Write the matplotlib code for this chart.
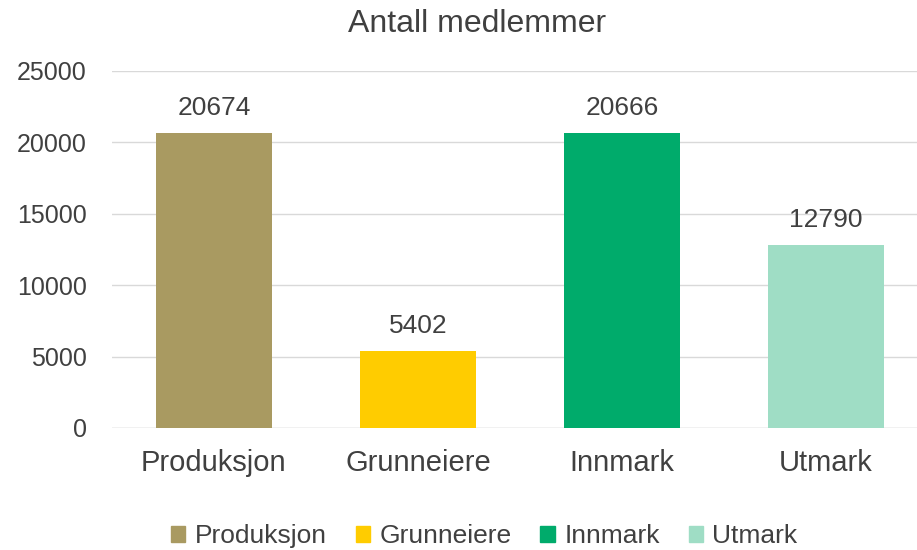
import matplotlib.pyplot as plt
from matplotlib.patches import Patch

categories = ['Produksjon', 'Grunneiere', 'Innmark', 'Utmark']
members = [20674, 5402, 20666, 12790]
colors = ['#A99A61', '#FFCC00', '#00AB6B', '#9FDDC5']
yticks = [0, 5000, 10000, 15000, 20000, 25000]

plt.rcParams['font.family'] = ['Liberation Sans', 'DejaVu Sans']

fig = plt.figure(figsize=(9.17, 5.5), dpi=100)
ax = fig.add_axes([0.122, 0.222, 0.89, 0.649])

x = range(len(categories))
bars = ax.bar(x, members, width=0.57, color=colors, zorder=2)
for b, v in zip(bars, members):
    ax.text(b.get_x() + b.get_width() / 2, v + 900, str(v),
            ha='center', va='bottom', fontsize=19, color='#404040')

ax.set_xlim(-0.5, len(categories) - 0.5)
ax.set_ylim(0, 25000)
ax.set_yticks(yticks)
ax.set_xticks(list(x))
ax.set_xticklabels(categories, fontsize=21, color='#404040')
ax.tick_params(axis='y', labelsize=18, labelcolor='#404040', length=0, pad=18)
ax.tick_params(axis='x', length=0, pad=15)
ax.grid(axis='y', color='#D9D9D9', lw=1, zorder=0)
for s in ax.spines.values():
    s.set_visible(False)
ax.axhline(0, color='#D9D9D9', lw=1, zorder=1)

fig.text(0.52, 0.957, 'Antall medlemmer', fontsize=23, color='#404040',
         ha='center', va='center')

handles = [Patch(color=c, label=l) for c, l in zip(colors, categories)]
fig.legend(handles=handles, loc='lower center', ncol=4, frameon=False,
           fontsize=19, handlelength=0.55, handleheight=0.55, handletextpad=0.35,
           columnspacing=1.1, bbox_to_anchor=(0.528, -0.04), labelcolor='#404040')

fig.savefig('out.png', dpi=100)
